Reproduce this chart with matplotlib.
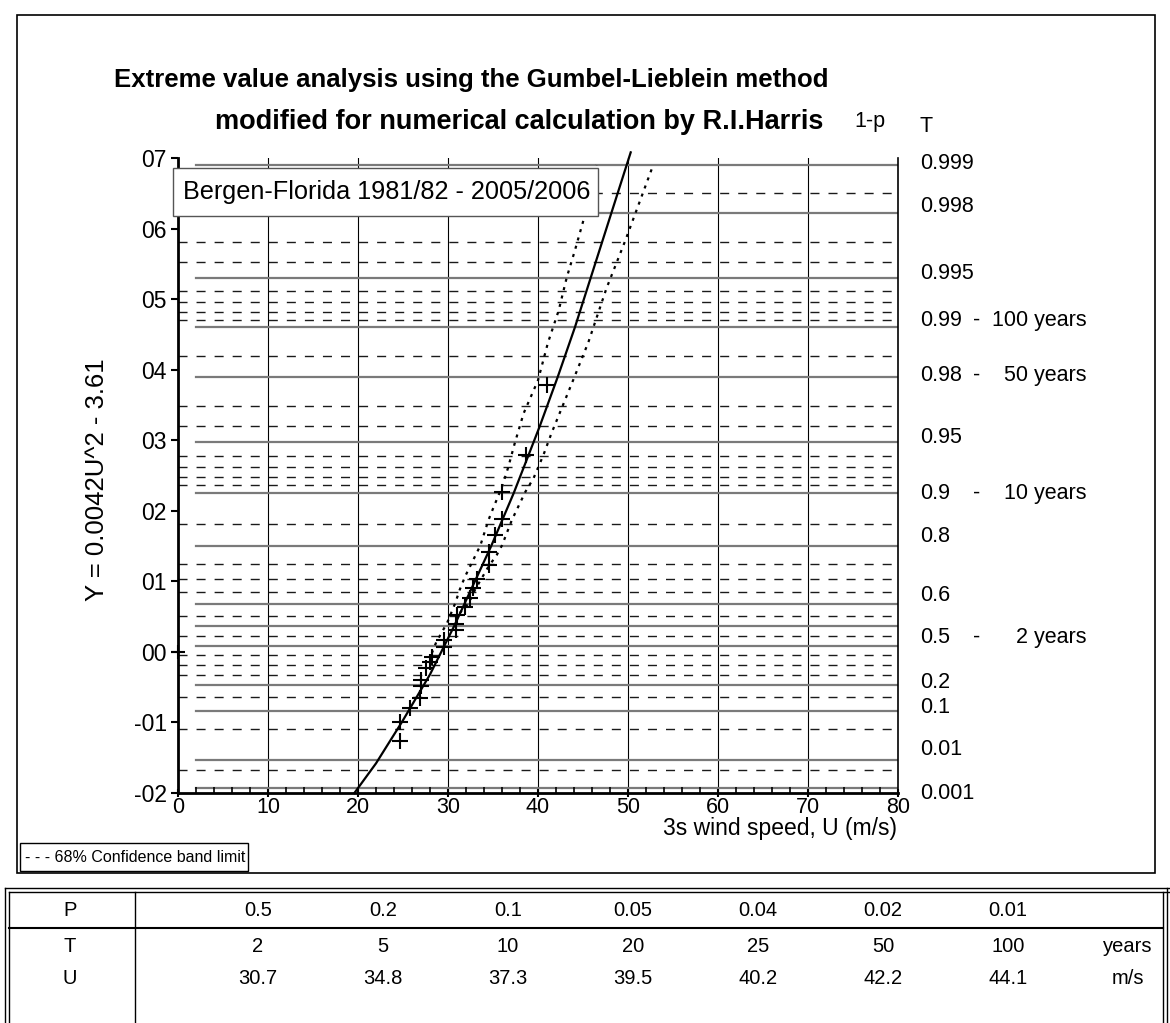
import numpy as np
import matplotlib
matplotlib.use("Agg")
import matplotlib.pyplot as plt
from matplotlib.lines import Line2D
from matplotlib.patches import Rectangle
import matplotlib.transforms as mtransforms

plt.rcParams['font.family'] = ['Liberation Sans', 'DejaVu Sans']
plt.rcParams['lines.scale_dashes'] = False

# ---------------- data ----------------
obs_U = [24.7, 24.7, 25.8, 26.9, 27.0, 27.0, 27.6, 28.0, 28.2, 29.5, 29.6, 30.9, 30.9,
         31.0, 31.9, 32.4, 32.8, 33.2, 34.5, 34.5, 35.2, 36.0, 36.0, 38.7, 41.0]
obs_Y = [-1.27, -0.99, -0.80, -0.66, -0.49, -0.40, -0.23, -0.14, -0.07, 0.07, 0.17, 0.31, 0.40,
         0.52, 0.64, 0.77, 0.90, 1.04, 1.23, 1.42, 1.66, 1.89, 2.27, 2.79, 3.78]
extra_U = [0.0]
extra_Y = [0.0]

fit_U = [19.6, 22.0, 24.9, 28.0, 30.7, 34.8, 37.3, 39.5, 40.2, 42.2, 44.1, 50.3]
fit_Y = [-2.0, -1.58, -0.99, -0.32, 0.37, 1.50, 2.25, 2.97, 3.20, 3.90, 4.60, 7.08]

bandL_U = [28.2, 28.7, 29.9, 30.8, 31.3, 31.9, 32.6, 33.6, 34.5, 35.0, 36.0, 36.7, 37.4,
           38.4, 40.0, 41.1, 42.3, 43.2, 44.1, 45.1, 46.5]
bandL_Y = [-0.02, 0.14, 0.41, 0.69, 0.88, 1.07, 1.25, 1.51, 1.87, 2.03, 2.34, 2.62, 2.95,
           3.38, 3.85, 4.38, 4.84, 5.31, 5.69, 6.14, 6.90]
bandR_U = [31.3, 32.3, 33.0, 34.5, 35.4, 36.0, 37.1, 38.6, 39.5, 40.6, 41.5, 43.9, 45.6,
           47.6, 49.7, 51.7, 52.8]
bandR_Y = [0.55, 0.69, 0.88, 1.21, 1.37, 1.51, 1.87, 2.27, 2.46, 2.79, 3.10, 3.85, 4.39,
           5.15, 5.83, 6.52, 6.90]

solid_p = [0.999, 0.998, 0.995, 0.99, 0.98, 0.95, 0.9, 0.8, 0.6, 0.5, 0.4, 0.2, 0.1, 0.01, 0.001]
dashed_p = [0.9985, 0.997, 0.996, 0.994, 0.993, 0.992, 0.991, 0.985, 0.97, 0.96, 0.94, 0.93,
            0.92, 0.91, 0.85, 0.75, 0.7, 0.65, 0.55, 0.45, 0.35, 0.3, 0.25, 0.15, 0.05, 0.005]

right_labels = ["0.999", "0.998", "0.995", "0.99", "0.98", "0.95", "0.9", "0.8", "0.6",
                "0.5", "0.2", "0.1", "0.01", "0.001"]
right_p = [0.999, 0.998, 0.995, 0.99, 0.98, 0.95, 0.9, 0.8, 0.6, 0.5, 0.2, 0.1, 0.01, 0.001]
period_p = [0.99, 0.98, 0.9, 0.5]
period_keys = ["0.99", "0.98", "0.9", "0.5"]
period_labels = ["100 years", "50 years", "10 years", "2 years"]

x_ticks = [0, 10, 20, 30, 40, 50, 60, 70, 80]
y_ticks = [-2, -1, 0, 1, 2, 3, 4, 5, 6, 7]
y_ticklabels = ["-02", "-01", "00", "01", "02", "03", "04", "05", "06", "07"]

table_rows = ["P", "T", "U"]
table_P = ["0.5", "0.2", "0.1", "0.05", "0.04", "0.02", "0.01"]
table_T = ["2", "5", "10", "20", "25", "50", "100"]
table_U = ["30.7", "34.8", "37.3", "39.5", "40.2", "42.2", "44.1"]
table_units = ["", "years", "m/s"]

title1 = "Extreme value analysis using the Gumbel-Lieblein method"
title2 = "modified for numerical calculation by R.I.Harris"
box_text = "Bergen-Florida 1981/82 - 2005/2006"
legend_text = "- - - 68% Confidence band limit"
xlabel = "3s wind speed, U (m/s)"
ylabel = "Y = 0.0042U^2 - 3.61"

# label nudges in pixels (positive = up)
nudge = {"0.999": 1, "0.998": 7, "0.995": 5, "0.99": 7, "0.98": 1, "0.95": 5, "0.9": 0,
         "0.8": 10, "0.6": 9, "0.5": -11, "0.2": 3, "0.1": 3, "0.01": 10, "0.001": -5}


def gumbel(p):
    return -np.log(-np.log(np.asarray(p, dtype=float)))


# ---------------- figure ----------------
W, H = 1170, 1023
fig = plt.figure(figsize=(W / 100, H / 100), dpi=100)
fig.patch.set_facecolor('white')

ov = fig.add_axes([0, 0, 1, 1], zorder=-1)
ov.set_xlim(0, W)
ov.set_ylim(H, 0)
ov.axis('off')

L, R, T, B = 178, 898, 158, 793
ax = fig.add_axes([L / W, (H - B) / H, (R - L) / W, (B - T) / H], zorder=1)
ax.set_xlim(0, 80)
ax.set_ylim(-2, 7)

fg = fig.add_axes([0, 0, 1, 1], zorder=5)
fg.set_xlim(0, W)
fg.set_ylim(H, 0)
fg.patch.set_alpha(0)
fg.axis('off')

# grid
for xv in x_ticks[1:-1]:
    ax.axvline(xv, color='black', lw=0.8, zorder=1)
for yv in gumbel(dashed_p):
    ax.plot([0, 80], [yv, yv], color='#1a1a1a', lw=1.0, dashes=(6.5, 6.5), zorder=1)
for yv in gumbel(solid_p):
    ax.plot([2, 80], [yv, yv], color='#7a7a7a', lw=1.6, zorder=1)

# series
ax.plot(bandL_U, bandL_Y, color='black', lw=1.6, dashes=(2.2, 4.0), zorder=3)
ax.plot(bandR_U, bandR_Y, color='black', lw=1.6, dashes=(2.2, 4.0), zorder=3)
ax.plot(fit_U, fit_Y, color='black', lw=1.6, zorder=4, clip_on=False)
ax.plot(obs_U, obs_Y, linestyle='none', marker='+', ms=11, mew=1.5, color='black', zorder=5)
ax.plot(extra_U, extra_Y, linestyle='none', marker='+', ms=10, mew=1.5, color='black',
        zorder=5, clip_on=False)

# spines and ticks
ax.spines['top'].set_visible(False)
ax.spines['left'].set_linewidth(2.0)
ax.spines['bottom'].set_linewidth(2.0)
ax.spines['right'].set_linewidth(1.2)
ax.set_xticks(x_ticks)
ax.set_xticks(np.arange(0, 81, 2), minor=True)
ax.set_yticks(y_ticks)
ax.set_yticklabels(y_ticklabels)
ax.tick_params(axis='x', which='major', direction='inout', length=6, width=1.5,
               labelsize=15.5, pad=0)
ax.tick_params(axis='x', which='minor', direction='in', length=4, width=1.2)
ax.tick_params(axis='y', which='major', direction='out', length=5, width=1.5,
               labelsize=16.5, pad=3)
ax.tick_params(right=False)

# right-hand probability labels
RFS = 15.5
blend = mtransforms.blended_transform_factory(ov.transData, ax.transData)
for lab, p in zip(right_labels, right_p):
    tr = mtransforms.offset_copy(blend, fig=fig, x=0, y=nudge[lab], units='dots')
    ax.text(920, gumbel(p), lab, transform=tr, ha='left', va='center', fontsize=RFS,
            clip_on=False)
for key, p, lab in zip(period_keys, period_p, period_labels):
    tr = mtransforms.offset_copy(blend, fig=fig, x=0, y=nudge[key], units='dots')
    ax.text(977, gumbel(p), "-", transform=tr, ha='center', va='center', fontsize=RFS,
            clip_on=False)
    ax.text(1087, gumbel(p), lab, transform=tr, ha='right', va='center', fontsize=RFS,
            clip_on=False)

# chart frame, titles and labels
ov.add_patch(Rectangle((17, 15), 1138, 858, fill=False, edgecolor='black', lw=1.2))
ov.text(471, 80, title1, ha='center', va='center', fontsize=18.5, fontweight='bold')
ov.text(519, 122, title2, ha='center', va='center', fontsize=19.5, fontweight='bold')
ov.text(870, 121, "1-p", ha='center', va='center', fontsize=15.5)
ov.text(926, 127, "T", ha='center', va='center', fontsize=15.5)
ov.text(780, 829, xlabel, ha='center', va='center', fontsize=16.5)
ov.text(97, 480, ylabel, ha='center', va='center', fontsize=18.5, rotation=90)

# station box and legend box
fg.add_patch(Rectangle((173, 168), 425, 48, facecolor='white', edgecolor='#555555', lw=1.0))
fg.text(183, 192, box_text, ha='left', va='center', fontsize=18.2)
ov.add_patch(Rectangle((20, 843), 228, 28, facecolor='white', edgecolor='black', lw=1.0))
ov.text(25, 857, legend_text, ha='left', va='center', fontsize=11.5)

# table
lk = dict(color='black', lw=1.0)
ov.add_line(Line2D([5, 1170], [888, 888], **lk))
ov.add_line(Line2D([9, 1170], [892, 892], **lk))
ov.add_line(Line2D([5, 5], [888, 1023], **lk))
ov.add_line(Line2D([9, 9], [892, 1023], **lk))
ov.add_line(Line2D([1163, 1163], [892, 1023], **lk))
ov.add_line(Line2D([1167, 1167], [888, 1023], **lk))
ov.add_line(Line2D([135, 135], [892, 1023], **lk))
ov.add_line(Line2D([9, 1163], [928, 928], color='black', lw=1.5))
row_y = [910, 947, 978]
rows = [table_P, table_T, table_U]
for ry, name, vals, unit in zip(row_y, table_rows, rows, table_units):
    ov.text(70, ry, name, ha='center', va='center', fontsize=14.5)
    for i, v in enumerate(vals):
        ov.text(258 + 125 * i, ry, v, ha='center', va='center', fontsize=14.5)
    if unit:
        ov.text(1128, ry, unit, ha='center', va='center', fontsize=14.5)

fig.savefig("out.png", dpi=100)
